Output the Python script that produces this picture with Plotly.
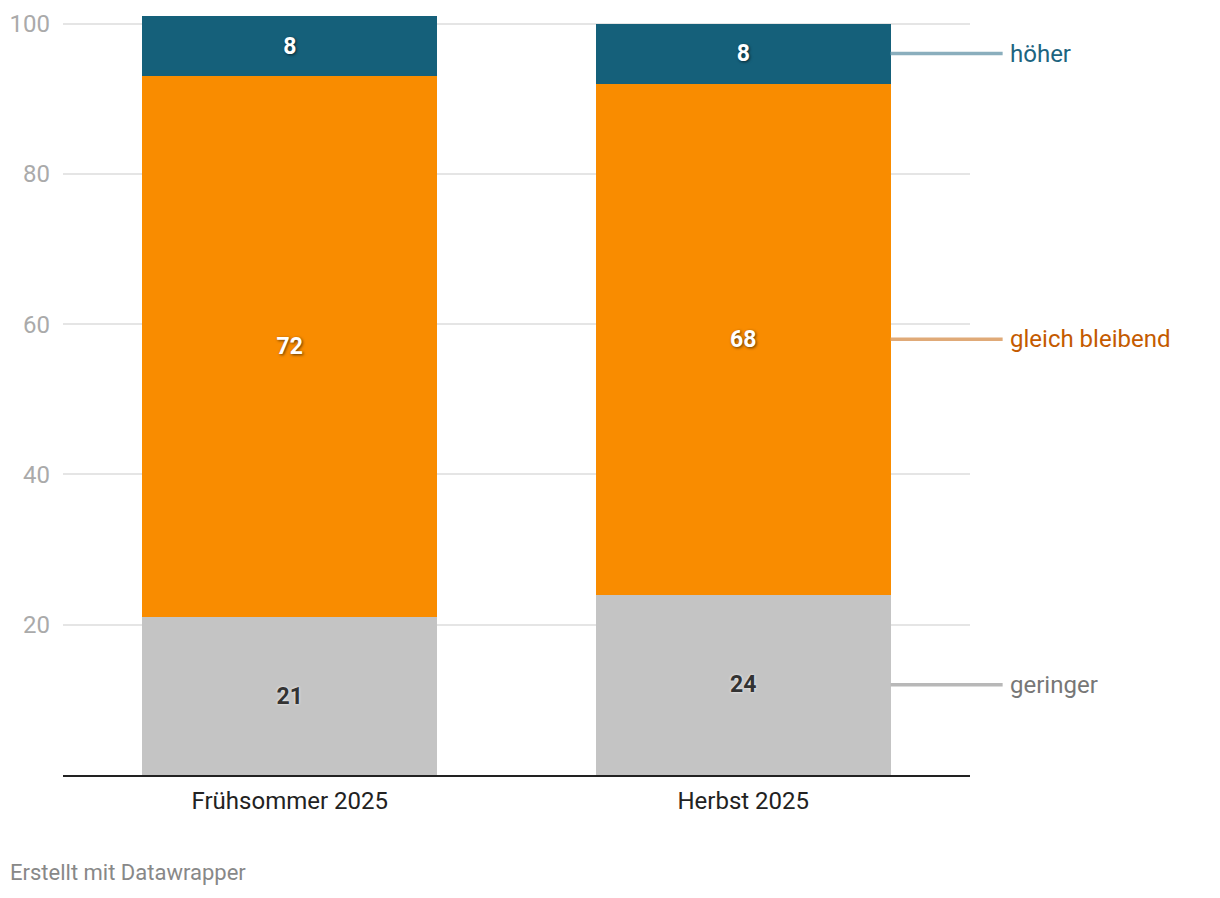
import plotly.graph_objects as go

categories = ["Frühsommer 2025", "Herbst 2025"]
geringer = [21, 24]
gleich = [72, 68]
hoeher = [8, 8]
series_names = ["geringer", "gleich bleibend", "höher"]
bar_colors = ["#c4c4c4", "#f98c00", "#15607a"]
line_colors = ["#b8b8b8", "#e0aa78", "#8aaebd"]
label_colors = ["#777777", "#c45a00", "#1d6480"]
text_colors = ["#333333", "#ffffff", "#ffffff"]
y_ticks = [20, 40, 60, 80, 100]

W, H = 1220, 898
OFF = 8  # page body offset
ml, mr, mt, mb = 63 - OFF, 250 + OFF, 16 - OFF, 123 + OFF
bargap = 0.35

fig = go.Figure()
series = [geringer, gleich, hoeher]
for name, vals, col, tcol in zip(series_names, series, bar_colors, text_colors):
    shadow = "0px 0px 3px rgba(255,255,255,0.9)" if tcol != "#ffffff" else "1px 1px 3px rgba(0,0,0,0.6)"
    fig.add_trace(go.Bar(
        x=categories, y=vals, name=name, marker=dict(color=col, line=dict(width=0)),
        text=[str(v) for v in vals], textposition="inside", insidetextanchor="middle",
        textfont=dict(family="Roboto", size=23, color=tcol, weight="bold", shadow=shadow),
        constraintext="none", hoverinfo="skip", showlegend=False,
    ))

n = len(categories)
plot_w = W - ml - mr
plot_h = H - mt - mb
last_right = (n - 1 + 0.5 + (1 - bargap) / 2) / n
line_end = last_right + 112 / plot_w
text_x = line_end + 5 / plot_w
cum = 0
for i, vals in enumerate(series):
    v = vals[-1]
    mid = cum + v / 2
    cum += v
    fig.add_shape(type="line", xref="paper", yref="y", x0=last_right, x1=line_end,
                  y0=mid, y1=mid, line=dict(color=line_colors[i], width=3.5))
    fig.add_annotation(xref="paper", yref="y", x=text_x, y=mid, text=series_names[i],
                       showarrow=False, xanchor="left", yanchor="middle",
                       font=dict(family="Roboto", size=24, color=label_colors[i]))

fig.add_annotation(xref="paper", yref="paper", x=(8 - 63) / plot_w, y=-(872 - 775) / plot_h,
                   text="Erstellt mit Datawrapper", showarrow=False, xanchor="left", yanchor="middle",
                   font=dict(family="Roboto", size=22, color="#888888"))

fig.update_layout(
    width=W, height=H, barmode="stack", bargap=bargap,
    margin=dict(l=ml, r=mr, t=mt, b=mb, autoexpand=False), plot_bgcolor="white", paper_bgcolor="white",
    font=dict(family="Roboto"),
    xaxis=dict(showline=True, linecolor="#222222", linewidth=2, ticks="", showgrid=False, automargin=False,
               tickfont=dict(size=24, color="#222222"), ticklabelstandoff=3),
    yaxis=dict(range=[0, 101], tickvals=y_ticks, showgrid=True, gridcolor="#e5e5e5", gridwidth=1.5,
               automargin=False, zeroline=False, tickfont=dict(size=24, color="#aaaaaa"), ticks="",
               ticklabelstandoff=12),
)
fig.write_html("out.html")
